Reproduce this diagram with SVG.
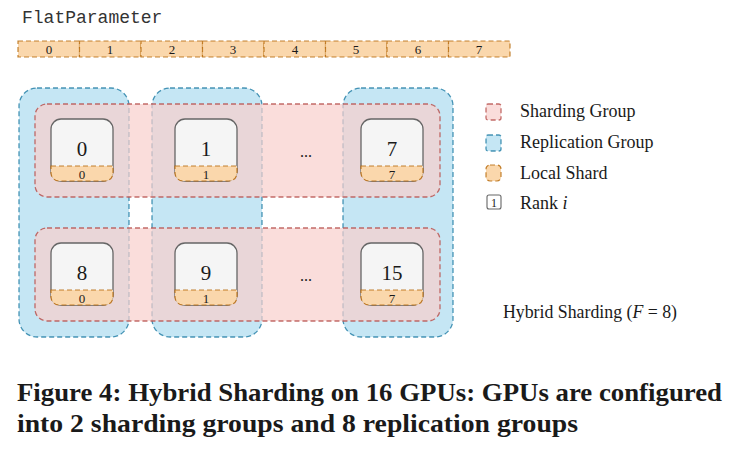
<svg xmlns="http://www.w3.org/2000/svg" width="750" height="453" viewBox="0 0 750 453">
<style>
.serif{font-family:"Liberation Serif","Times New Roman",serif;fill:#1a1a1a}
.blue{fill:#b1ddf0;fill-opacity:0.75;stroke:#10739e;stroke-opacity:0.75;stroke-width:1.3;stroke-dasharray:5 3}
.pink{fill:#f8cecc;fill-opacity:0.7;stroke:#b85450;stroke-opacity:0.85;stroke-width:1.3;stroke-dasharray:5 3}
.shard{fill:#fad7ac;stroke:#b46504;stroke-opacity:0.8;stroke-width:1.2;stroke-dasharray:5 3}
.node{fill:#f5f5f5;stroke:#666;stroke-width:1.3}
.num{font-size:21px;text-anchor:middle}
.sn{font-size:13px;text-anchor:middle}
.leg{font-size:18px}
</style>
<rect width="750" height="453" fill="#fff"/>
<text x="22" y="23" font-family="Liberation Mono,Courier New,monospace" font-size="18" fill="#333">FlatParameter</text>
<g id="flatparam">
<rect class="shard" x="18" y="41" width="61.5" height="16"/>
<rect class="shard" x="79.5" y="41" width="61.5" height="16"/>
<rect class="shard" x="141" y="41" width="61.5" height="16"/>
<rect class="shard" x="202.5" y="41" width="61.5" height="16"/>
<rect class="shard" x="264" y="41" width="61.5" height="16"/>
<rect class="shard" x="325.5" y="41" width="61.5" height="16"/>
<rect class="shard" x="387" y="41" width="61.5" height="16"/>
<rect class="shard" x="448.5" y="41" width="61.5" height="16"/>
<g class="serif sn">
<text x="49" y="54">0</text><text x="110" y="54">1</text><text x="172" y="54">2</text><text x="233" y="54">3</text>
<text x="295" y="54">4</text><text x="356" y="54">5</text><text x="418" y="54">6</text><text x="479" y="54">7</text>
</g>
</g>
<g id="replication-groups">
<rect id="rep0" class="blue" x="19" y="88" width="110" height="249" rx="18"/>
<rect id="rep1" class="blue" x="152" y="88" width="110" height="249" rx="18"/>
<rect id="rep7" class="blue" x="343" y="88" width="110" height="249" rx="18"/>
</g>
<g id="sharding-groups">
<rect id="shard-group-0" class="pink" x="35" y="104" width="405" height="93" rx="12"/>
<rect id="shard-group-1" class="pink" x="35" y="228" width="405" height="93" rx="12"/>
</g>
<g id="rank0"><rect class="node" x="51" y="119" width="62" height="62" rx="10"/><path class="shard" d="M51,166H113V173a8,8 0 0 1 -8,8H59a8,8 0 0 1 -8,-8Z"/><text class="serif num" x="82" y="156">0</text><text class="serif sn" x="82" y="178.5">0</text></g>
<g id="rank1"><rect class="node" x="175" y="119" width="62" height="62" rx="10"/><path class="shard" d="M175,166H237V173a8,8 0 0 1 -8,8H183a8,8 0 0 1 -8,-8Z"/><text class="serif num" x="206" y="156">1</text><text class="serif sn" x="206" y="178.5">1</text></g>
<g id="rank7"><rect class="node" x="361" y="119" width="62" height="62" rx="10"/><path class="shard" d="M361,166H423V173a8,8 0 0 1 -8,8H369a8,8 0 0 1 -8,-8Z"/><text class="serif num" x="392" y="156">7</text><text class="serif sn" x="392" y="178.5">7</text></g>
<g id="rank8"><rect class="node" x="51" y="243" width="62" height="62" rx="10"/><path class="shard" d="M51,290H113V297a8,8 0 0 1 -8,8H59a8,8 0 0 1 -8,-8Z"/><text class="serif num" x="82" y="280">8</text><text class="serif sn" x="82" y="302.5">0</text></g>
<g id="rank9"><rect class="node" x="175" y="243" width="62" height="62" rx="10"/><path class="shard" d="M175,290H237V297a8,8 0 0 1 -8,8H183a8,8 0 0 1 -8,-8Z"/><text class="serif num" x="206" y="280">9</text><text class="serif sn" x="206" y="302.5">1</text></g>
<g id="rank15"><rect class="node" x="361" y="243" width="62" height="62" rx="10"/><path class="shard" d="M361,290H423V297a8,8 0 0 1 -8,8H369a8,8 0 0 1 -8,-8Z"/><text class="serif num" x="392" y="280">15</text><text class="serif sn" x="392" y="302.5">7</text></g>
<g id="ellipses" class="serif" font-size="16" text-anchor="middle">
<text x="306" y="157">...</text><text x="306" y="281">...</text>
</g>
<g id="legend">
<rect class="pink" x="486" y="104" width="15" height="16" rx="2"/>
<rect class="blue" x="486" y="135" width="15" height="16" rx="2"/>
<rect class="shard" x="486" y="165" width="15" height="16" rx="4"/>
<rect x="487" y="195" width="14" height="14" rx="2" fill="#fff" stroke="#666" stroke-width="1.1"/>
<text class="serif" x="494" y="206.5" font-size="12" text-anchor="middle">1</text>
<text class="serif leg" x="520" y="117">Sharding Group</text>
<text class="serif leg" x="520" y="148">Replication Group</text>
<text class="serif leg" x="520" y="178.5">Local Shard</text>
<text class="serif leg" x="520" y="209">Rank <tspan font-style="italic">i</tspan></text>
</g>
<text class="serif" x="503" y="318" font-size="17.8">Hybrid Sharding (<tspan font-style="italic">F</tspan> = 8)</text>
<g id="caption" class="serif" font-weight="bold" font-size="25">
<text x="17" y="401" textLength="705" lengthAdjust="spacingAndGlyphs">Figure 4: Hybrid Sharding on 16 GPUs: GPUs are configured</text>
<text x="17" y="432" textLength="561" lengthAdjust="spacingAndGlyphs">into 2 sharding groups and 8 replication groups</text>
</g>
</svg>
